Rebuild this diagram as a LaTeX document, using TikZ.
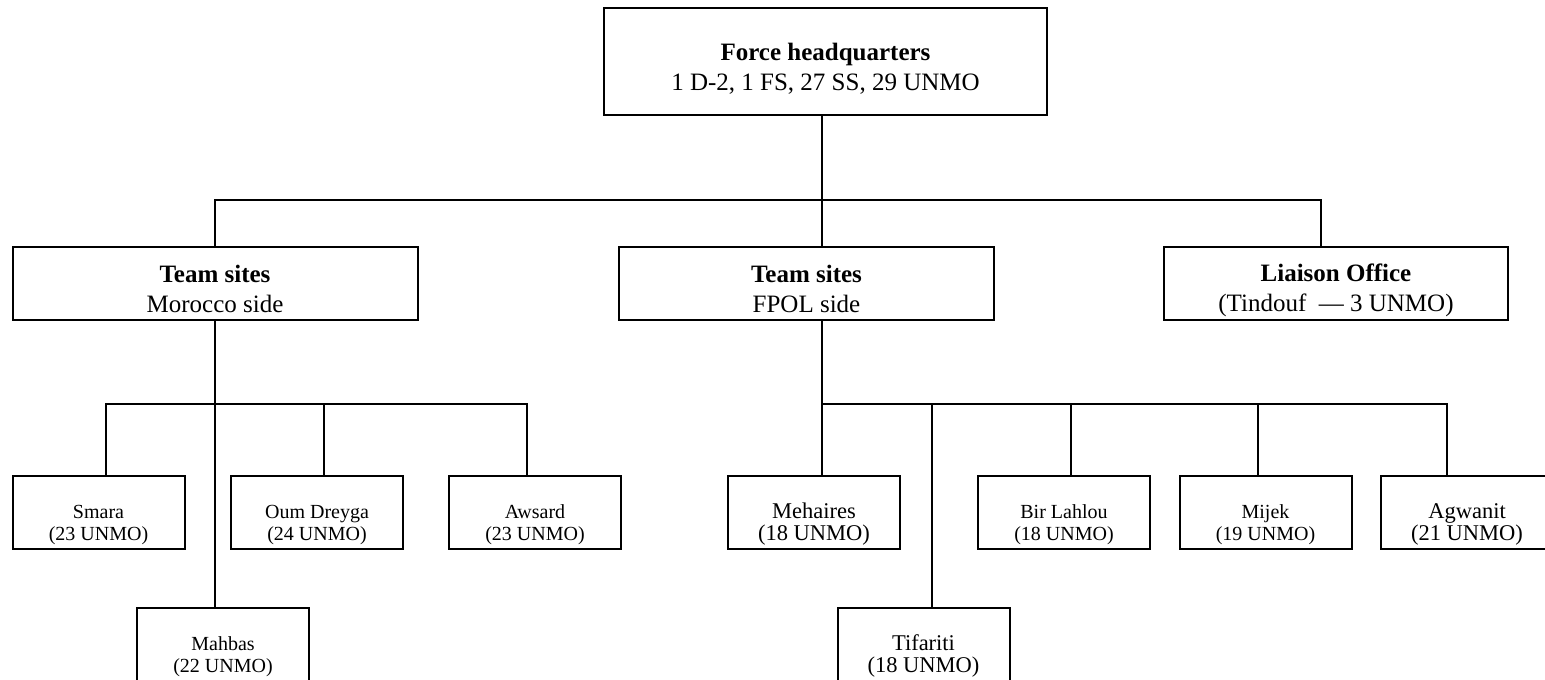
\documentclass[tikz,border=0pt]{standalone}
\usepackage{fontspec}
\setmainfont{Liberation Serif}
\usetikzlibrary{positioning}
\tikzset{
  orgbox/.style={
    draw,
    line width=2pt,
    inner sep=2pt,
    align=center
  },
  headbox/.style={
    orgbox,
    font=\fontsize{25}{30}\selectfont,
    text height=63pt,
    text depth=6pt,
    minimum height=73pt
  },
  sitebox/.style={
    orgbox,
    font=\fontsize{20}{22}\selectfont,
    text height=61pt,
    text depth=6pt,
    minimum width=172pt,
    minimum height=73pt
  },
  sitebig/.style={sitebox,font=\fontsize{22.5}{22}\selectfont},
  orglink/.style={draw,line width=1.3pt}
}

\begin{document}
\begin{tikzpicture}[x=1pt,y=-1pt]
        \useasboundingbox (0,0) rectangle (1545,680);
        % top level
        \node[headbox,minimum width=443pt,minimum height=107pt] (hq) at (825.5,61.5) {\textbf{Force headquarters}\\1 D-2, 1 FS, 27 SS, 29 UNMO};
        \node[headbox,minimum width=405pt] (morocco) at (215,283.5) {\textbf{Team sites}\\Morocco side};
        \node[headbox,minimum width=375pt] (fpol) at (806.5,283.5) {\textbf{Team sites}\\FPOL side};
        \node[headbox,minimum width=344pt] (liaison) at (1336,283) {\textbf{Liaison Office}\\(Tindouf~ — 3 UNMO)};
        % Morocco side sites
        \node[sitebox] (smara) at (98.5,512.5) {Smara\\(23 UNMO)};
        \node[sitebox] (oum) at (317,512.5) {Oum Dreyga\\(24 UNMO)};
        \node[sitebox] (awsard) at (535,512.5) {Awsard\\(23 UNMO)};
        \node[sitebox] (mahbas) at (223,644.5) {Mahbas\\(22 UNMO)};
        % FPOL side sites
        \node[sitebig] (mehaires) at (814,512.5) {Mehaires\\(18 UNMO)};
        \node[sitebig] (tifariti) at (923.5,644.5) {Tifariti\\(18 UNMO)};
        \node[sitebox] (birlahlou) at (1064,512.5) {Bir Lahlou\\(18 UNMO)};
        \node[sitebox] (mijek) at (1265.5,512.5) {Mijek\\(19 UNMO)};
        \node[sitebig] (agwanit) at (1467,512.5) {Agwanit\\(21 UNMO)};
        % connectors
        \coordinate (hqbus) at (822,200);
        \coordinate (mbus) at (215,404);
        \coordinate (fbus) at (822,404);
        \draw[orglink] ([xshift=-3.5pt]hq.south) -- (hqbus);
        \draw[orglink] (morocco.north) |- (hqbus) -| ([xshift=-15pt]liaison.north);
        \draw[orglink] ([xshift=15.5pt]fpol.north) -- (hqbus);
        \draw[orglink] (morocco.south) -- ([xshift=-8pt]mahbas.north);
        \draw[orglink] ([xshift=7.5pt]smara.north) |- (mbus) -| ([xshift=-8pt]awsard.north);
        \draw[orglink] ([xshift=7pt]oum.north) -- ([xshift=7pt]oum.north |- mbus);
        \draw[orglink] ([xshift=15.5pt]fpol.south) -- ([xshift=8pt]mehaires.north);
        \draw[orglink] (fbus) -| ([xshift=-20pt]agwanit.north);
        \foreach \site/\dx in {tifariti/8.5,birlahlou/7,mijek/-7.5}
          \draw[orglink] ([xshift=\dx pt]\site.north) -- ([xshift=\dx pt]\site.north |- fbus);
      \end{tikzpicture}
\end{document}
